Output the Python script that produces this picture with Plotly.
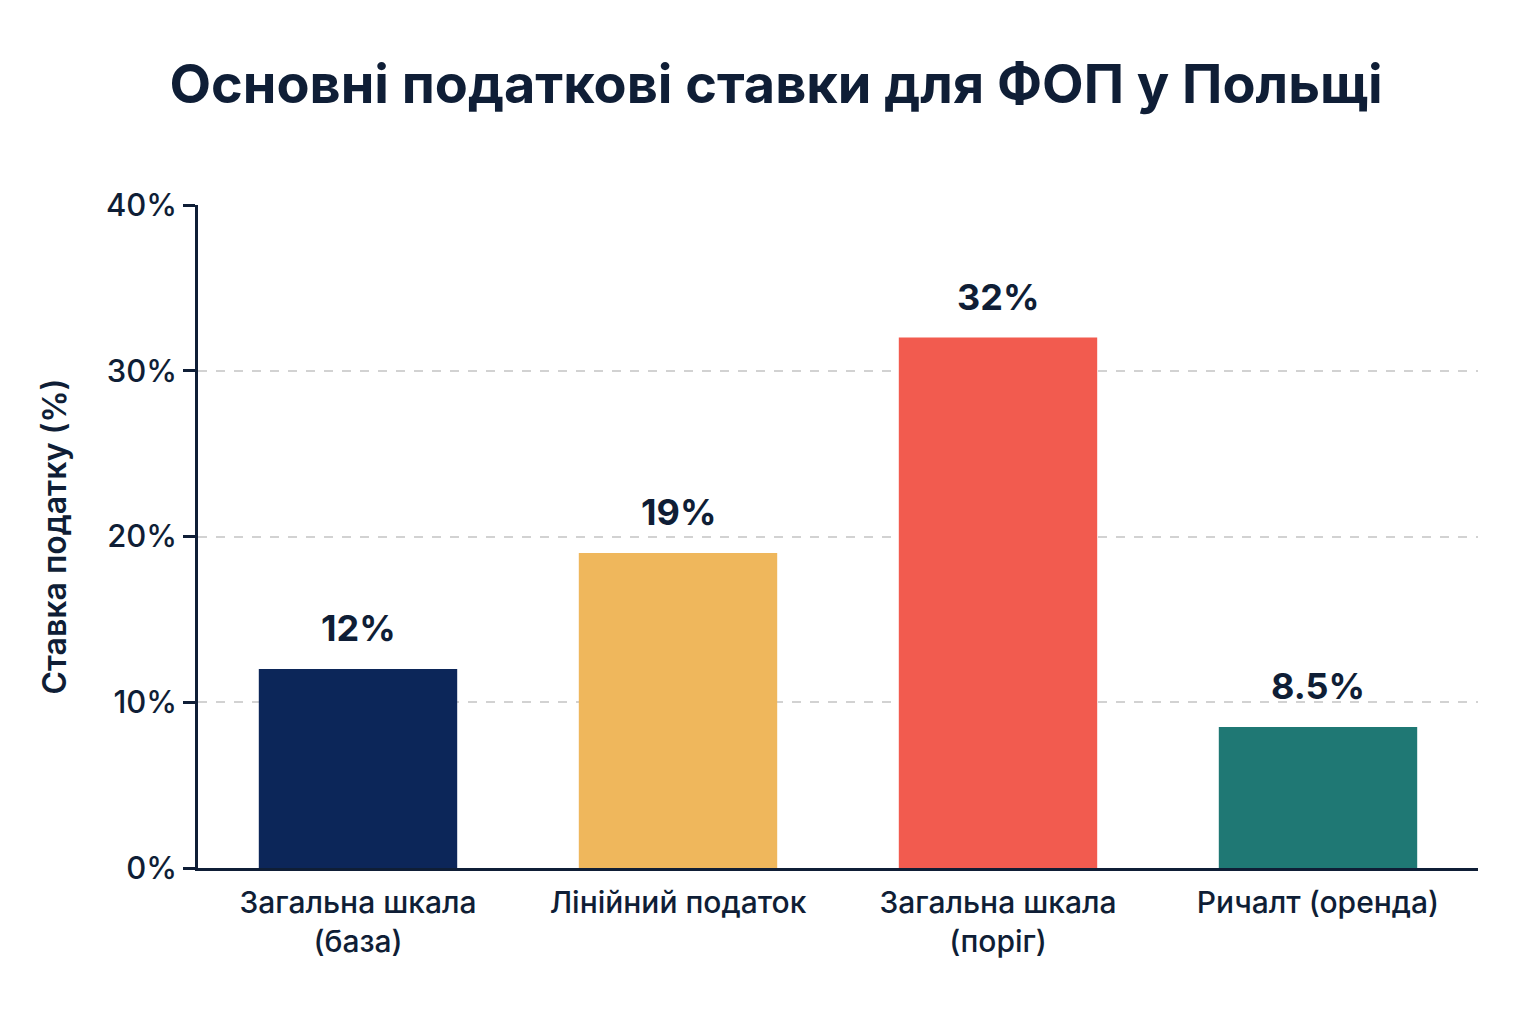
import plotly.graph_objects as go

# data
categories = ["Загальна шкала<br>(база)", "Лінійний податок", "Загальна шкала<br>(поріг)", "Ричалт (оренда)"]
rates = [12, 19, 32, 8.5]
rate_labels = ["12%", "19%", "32%", "8.5%"]
bar_colors = ["#0c2659", "#efb75c", "#f25b4f", "#1f7874"]
y_ticks = [0, 10, 20, 30, 40]
y_tick_labels = ["0%", "10%", "20%", "30%", "40%"]

INK = "#0f1e36"
FONT = "Inter, Roboto, sans-serif"

fig = go.Figure()
fig.add_trace(go.Bar(
    x=categories, y=rates,
    marker=dict(color=bar_colors, line=dict(width=0)),
    hoverinfo="skip",
))

# value labels above the bars, lifted a bit off the bar top
for cat, val, lab in zip(categories, rates, rate_labels):
    fig.add_annotation(
        x=cat, y=val, text=lab, showarrow=False,
        yanchor="bottom", yshift=17,
        font=dict(size=36, color=INK, family=FONT, weight="bold"),
    )

fig.update_layout(
    width=1536, height=1024,
    paper_bgcolor="white", plot_bgcolor="white",
    margin=dict(l=190, r=66, t=197, b=164),
    bargap=0.38,
    showlegend=False,
    font=dict(family=FONT, color=INK),
    title=dict(
        text="Основні податкові ставки для ФОП у Польщі",
        x=0.5, xanchor="center", y=0.926, yanchor="middle",
        font=dict(size=54, color=INK, family=FONT, weight="bold"),
    ),
)

fig.update_xaxes(
    showline=True, linecolor=INK, linewidth=2.5,
    tickfont=dict(size=30, color=INK, weight=500),
    ticks="", showgrid=False, ticklabelstandoff=6,
)
fig.update_yaxes(
    range=[0, 40], tickvals=y_ticks, ticktext=y_tick_labels,
    showline=True, linecolor=INK, linewidth=2.5,
    ticks="outside", ticklen=12, tickwidth=2.5, tickcolor=INK,
    tickfont=dict(size=31, color=INK, weight=500),
    showgrid=True, gridcolor="#d2d2d2", griddash="dash", gridwidth=1.5,
    zeroline=False,
    title=dict(text="Ставка податку (%)", font=dict(size=32, color=INK, weight=600), standoff=30),
)

fig.write_html("out.html")
